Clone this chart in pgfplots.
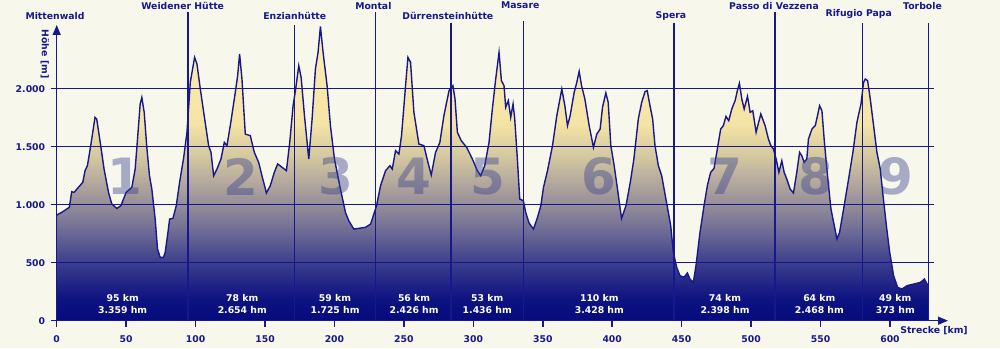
\documentclass[border=0pt]{standalone}
\usepackage{fontspec}
\setmainfont{DejaVu Sans}
\usepackage{pgfplots}
\pgfplotsset{compat=1.18}
\usepackage{pgfplotstable}
\usetikzlibrary{arrows.meta}
\definecolor{navy}{RGB}{24,24,140}
\definecolor{bg}{RGB}{247,247,236}
\definecolor{numc}{RGB}{55,65,145}
\definecolor{c0}{RGB}{5,10,125}
\definecolor{c1}{RGB}{15,20,130}
\definecolor{c2}{RGB}{60,62,140}
\definecolor{c3}{RGB}{115,112,150}
\definecolor{c4}{RGB}{165,155,155}
\definecolor{c5}{RGB}{210,198,160}
\definecolor{c6}{RGB}{245,228,165}
\definecolor{c7}{RGB}{252,238,178}
\pgfdeclareverticalshading{elev}{100bp}{color(0bp)=(c0); color(25bp)=(c0); color(28.94bp)=(c1); color(34.86bp)=(c2); color(40.77bp)=(c3); color(46.68bp)=(c4); color(52.59bp)=(c5); color(58.5bp)=(c6); color(75bp)=(c7); color(100bp)=(c7)}
\newcommand{\lf}{\fontsize{9.3}{10}\selectfont\bfseries}
\pgfplotstableread{
x y
0 911
3.6 934
9.1 977
10.8 1112
12.5 1106
15.6 1149
18.8 1193
20.4 1293
22.1 1336
24.5 1509
27.6 1753
28.8 1739
31.7 1509
34.1 1307
37.3 1106
39.7 1006
43.3 968
46.2 991
50 1106
54.1 1149
56.5 1307
58.2 1566
60.1 1868
61.3 1925
63 1796
64.9 1494
66.8 1250
68.5 1135
70.9 876
72.6 618
74.5 546
76.9 546
78.1 589
79.8 733
81.3 876
83.7 882
86.1 991
88.5 1193
91.3 1394
93.8 1624
96.2 2055
99.3 2270
101 2213
103.4 1997
106.2 1767
109.4 1509
111.1 1451
113 1250
115.4 1307
118.3 1394
120.7 1537
122.6 1509
125 1681
128.6 1968
130.3 2112
131.7 2299
133.4 2083
135.8 1609
139.4 1595
142.3 1451
145.4 1365
147.8 1250
151 1101
153.8 1164
156.7 1279
159.1 1351
162.3 1322
165.4 1293
167.8 1537
170.2 1853
171.9 1983
174.3 2198
176 2098
178.4 1767
181.5 1394
183.9 1739
186.3 2170
188.2 2313
189.9 2537
191.8 2313
194.7 2026
197.1 1681
200 1394
204.3 1135
207.9 934
210.3 862
213.9 790
217.5 796
222.4 805
226 833
228.4 920
230.3 991
233.2 1164
236.8 1293
239.9 1336
241.6 1307
244 1466
246.4 1437
248.3 1595
251.2 2026
252.9 2270
254.8 2227
257.2 1796
260.8 1523
264.4 1509
267.3 1365
269.7 1256
272.8 1451
275.9 1537
278.8 1767
282.5 1983
285.3 2026
286.8 1911
288.5 1624
291.3 1552
295.2 1494
299.3 1394
302.9 1293
305.3 1250
308.2 1336
311.3 1537
313.7 1825
316.1 2083
318.5 2313
320.2 2069
322.1 2026
323.3 1839
325.2 1897
326.9 1753
328.6 1868
329.8 1739
331.7 1394
333.4 1049
336 1034
337.7 934
340.1 842
343.3 790
346.2 891
348.6 991
350.5 1149
353.4 1293
357 1509
360.1 1767
363.7 1997
365.9 1853
367.8 1681
369.7 1767
372.6 1968
374.5 2055
376.2 2149
377.9 2026
380.3 1911
383.4 1681
386.5 1494
388.9 1609
391.3 1652
393 1839
395.4 1963
397.1 1882
399 1509
401.4 1336
403.8 1135
406.7 882
409.9 991
413 1193
415.6 1394
418.8 1739
421.2 1882
423.6 1974
425.2 1983
427.2 1853
429.1 1739
430.8 1509
433.2 1336
435.6 1250
438 1092
440.4 934
442.1 819
444 589
446.4 460
448.8 388
451.7 374
454.1 411
456 359
458.4 330
460.3 474
463.2 761
466.1 991
468.5 1164
470.9 1279
473.3 1313
475.7 1480
478.1 1652
480 1681
481.9 1761
483.9 1724
486.1 1825
488.5 1897
490.1 1983
491.6 2046
493.3 1911
495 1825
497.4 1934
499.3 1796
501.2 1810
503.6 1624
507 1782
510.1 1681
512.5 1566
514.2 1509
516.1 1480
518 1394
520 1279
522.1 1379
523.8 1279
525.7 1221
528.1 1135
530.5 1101
532.9 1279
534.9 1451
536.5 1422
538.2 1365
540.1 1394
541.3 1566
543.8 1652
546.2 1681
547.8 1767
549.3 1853
551 1810
552.6 1566
555 1250
557.5 963
559.9 819
561.8 704
563.7 761
566.6 963
570.2 1221
573.3 1451
576.2 1710
579.1 1868
581 2055
582.2 2083
583.9 2069
585.8 1911
588.2 1681
590.6 1451
593 1307
595 1078
597.4 819
599.8 589
602.6 388
605.5 287
608.7 273
612.3 302
617.1 316
621.9 330
624.8 359
626.7 316
627.6 310
}\profile
\begin{document}
\begin{tikzpicture}
\path[use as bounding box, fill=bg] (-56.7pt,-27.3pt) rectangle (943.3pt,320.7pt);
\begin{axis}[
 scale only axis, width=877.3pt, height=295.7pt,
 xmin=0, xmax=631.7, ymin=0, ymax=2549,
 axis x line=bottom, axis y line=left,
 axis line style={navy, line width=1.5pt},
 x axis line style={-{Triangle[length=10pt,width=8pt]}, shorten >=-14pt},
 y axis line style={-{Triangle[length=10pt,width=8pt]}},
 xtick={0,50,...,600},
 xticklabels={0,50,100,150,200,250,300,350,400,450,500,550,600},
 ytick={0,500,1000,1500,2000},
 yticklabels={0,500,1.000,1.500,2.000},
 tick align=outside, major tick length=6pt,
 tick style={navy, line width=1.5pt},
 ticklabel style={font=\lf, text=navy},
 yticklabel style={xshift=-2pt},
 xticklabel style={yshift=-5pt},
 ymajorgrids, grid style={navy, line width=1.4pt},
 axis on top, clip=false,
]
\addplot[draw=none, shading=elev] table[x=x,y=y] {\profile} \closedcycle;
\addplot[navy, line width=1.4pt] table[x=x,y=y] {\profile};
% stage boundaries
\addplot[navy, line width=1.4pt] coordinates {(94.5,0) (94.5,2659)};
\addplot[navy, line width=1.4pt] coordinates {(171.4,0) (171.4,2549)};
\addplot[navy, line width=1.4pt] coordinates {(229.7,0) (229.7,2659)};
\addplot[navy, line width=1.4pt] coordinates {(284,0) (284,2569)};
\addplot[navy, line width=1.4pt] coordinates {(336.3,0) (336.3,2586)};
\addplot[navy, line width=1.4pt] coordinates {(444.5,0) (444.5,2569)};
\addplot[navy, line width=1.4pt] coordinates {(517.2,0) (517.2,2659)};
\addplot[navy, line width=1.4pt] coordinates {(580.1,0) (580.1,2569)};
\addplot[navy, line width=1.4pt] coordinates {(627.6,0) (627.6,2569)};
% place names
\begin{scope}[every node/.style={font=\lf, text=navy}]
\node at (axis cs:-1.2,2629) {Mittenwald};
\node at (axis cs:90.7,2716) {Weidener Hütte};
\node at (axis cs:171.4,2629) {Enzianhütte};
\node at (axis cs:228,2716) {Montal};
\node at (axis cs:281.6,2629) {Dürrensteinhütte};
\node at (axis cs:333.8,2716) {Masare};
\node at (axis cs:442.3,2629) {Spera};
\node at (axis cs:516.5,2716) {Passo di Vezzena};
\node at (axis cs:577.5,2644) {Rifugio Papa};
\node at (axis cs:623.4,2716) {Torbole};
\node[rotate=-90] at (axis cs:-8.6,2299) {Höhe [m]};
\node at (axis cs:631.7,-89) {Strecke [km]};
\end{scope}
% stage numbers
\begin{scope}[every node/.style={font=\fontsize{50}{50}\selectfont\bfseries, text=numc, text opacity=0.42}]
\node at (axis cs:49.2,1243) {1};
\node at (axis cs:132.9,1243) {2};
\node at (axis cs:201.1,1243) {3};
\node at (axis cs:257.1,1243) {4};
\node at (axis cs:310.8,1243) {5};
\node at (axis cs:390.6,1243) {6};
\node at (axis cs:481.2,1243) {7};
\node at (axis cs:547,1243) {8};
\node at (axis cs:604.2,1243) {9};
\end{scope}
% stage stats
\begin{scope}[every node/.style={font=\lf, text=white, align=center, inner sep=0pt}]
\node at (axis cs:47.5,193) {95 km};   \node at (axis cs:47.5,90) {3.359 hm};
\node at (axis cs:133.6,193) {78 km};  \node at (axis cs:133.6,90) {2.654 hm};
\node at (axis cs:200.4,193) {59 km};  \node at (axis cs:200.4,90) {1.725 hm};
\node at (axis cs:257.3,193) {56 km};  \node at (axis cs:257.3,90) {2.426 hm};
\node at (axis cs:310,193) {53 km};    \node at (axis cs:310,90) {1.436 hm};
\node at (axis cs:390.7,193) {110 km}; \node at (axis cs:390.7,90) {3.428 hm};
\node at (axis cs:481.2,193) {74 km};  \node at (axis cs:481.2,90) {2.398 hm};
\node at (axis cs:549.1,193) {64 km};  \node at (axis cs:549.1,90) {2.468 hm};
\node at (axis cs:603.8,193) {49 km};  \node at (axis cs:603.8,90) {373 hm};
\end{scope}
\end{axis}
\end{tikzpicture}
\end{document}
